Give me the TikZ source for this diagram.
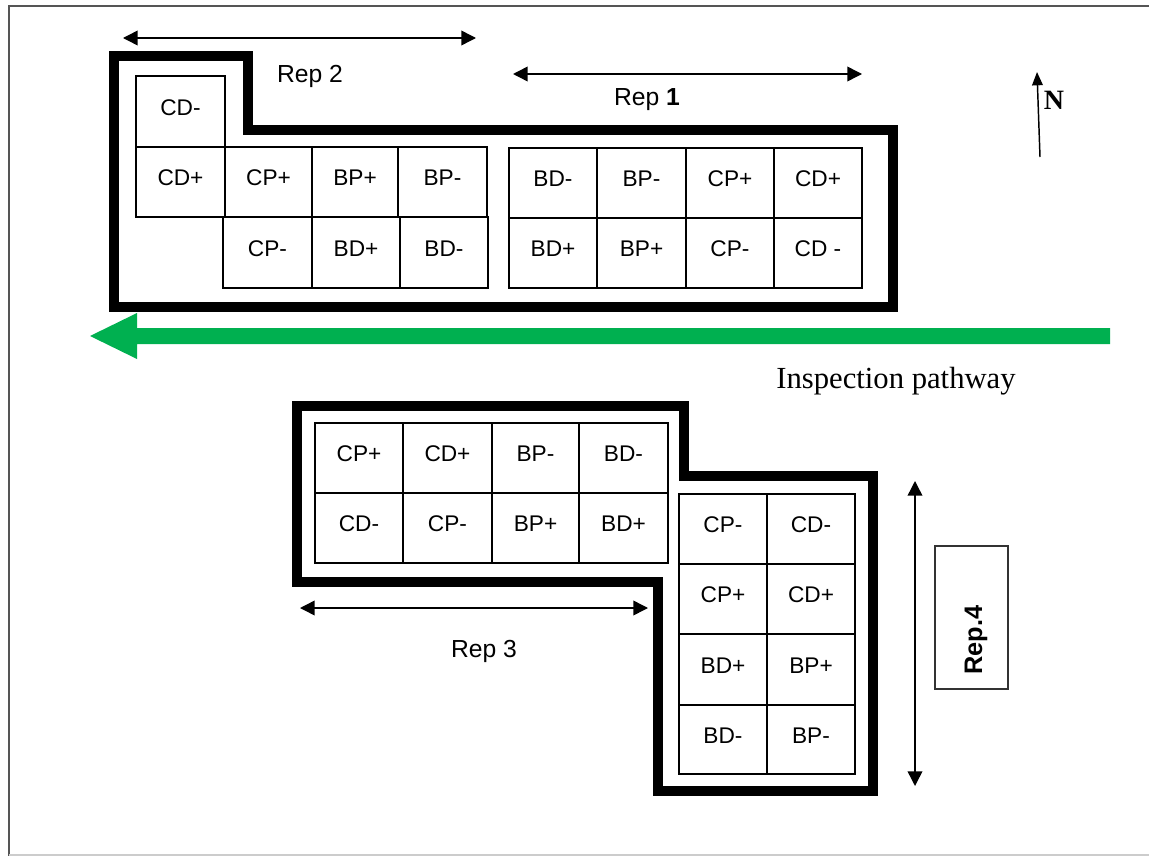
\documentclass[tikz,border=0pt]{standalone}
\usepackage{fontspec}
\setmainfont{Liberation Serif}
\setsansfont{Liberation Sans}
\usetikzlibrary{arrows.meta}
\definecolor{pathgreen}{HTML}{00B050}
\definecolor{framegray}{HTML}{555555}
\tikzset{
  cell/.style={draw=black,line width=1pt,inner sep=0pt,font=\sffamily\fontsize{17}{19}\selectfont},
  wall/.style={line width=6.8pt,line join=miter,draw=black},
  span/.style={line width=1.1pt,{Triangle[length=11pt,width=11pt]}-{Triangle[length=11pt,width=11pt]}},
  replabel/.style={font=\sffamily\fontsize{18.5}{21}\selectfont},
}
\newcommand\plotcell[6]{%
  \pgfmathsetmacro\cw{(#4-#2)*0.75}\pgfmathsetmacro\ch{(#5-#3)*0.75}%
  \node[cell,minimum width=\cw pt,minimum height=\ch pt] (#1) at ({(#2+#4)/2},{(#3+#5)/2}) {\raisebox{6pt}{#6}};}
\begin{document}
\begin{tikzpicture}[x=0.75pt,y=-0.75pt]
\useasboundingbox (0,0) rectangle (1149,856);
% frame
\draw[framegray,line width=1.5pt] (9,856) -- (9,6) -- (1149,6);
\draw[black!20,line width=1pt] (9,855) -- (1149,855);

% ---------- top block (Rep 1 and Rep 2)
\draw[wall] (114,56) -- (248,56) -- (248,130) -- (893,130) -- (893,307) -- (114,307) -- cycle;
\plotcell{a1}{136}{76}{225}{147}{CD-}
\plotcell{a2}{136}{147}{225}{217}{CD+}
\plotcell{a3}{225}{147}{312}{217}{CP+}
\plotcell{a4}{312}{147}{398}{217}{BP+}
\plotcell{a5}{398}{147}{487}{217}{BP-}
\plotcell{a6}{223}{217}{312}{288}{CP-}
\plotcell{a7}{312}{217}{400}{288}{BD+}
\plotcell{a8}{400}{217}{488}{288}{BD-}

\plotcell{b1}{509}{148}{597}{218}{BD-}
\plotcell{b2}{597}{148}{686}{218}{BP-}
\plotcell{b3}{686}{148}{774}{218}{CP+}
\plotcell{b4}{774}{148}{862}{218}{CD+}
\plotcell{b5}{509}{218}{597}{288}{BD+}
\plotcell{b6}{597}{218}{686}{288}{BP+}
\plotcell{b7}{686}{218}{774}{288}{CP-}
\plotcell{b8}{774}{218}{862}{288}{CD -}

\coordinate (r2a) at (123,38); \coordinate (r2b) at (476,38);
\draw[span] (r2a) -- (r2b);
\node[replabel] (rep2) at (310,76) {Rep 2};
\coordinate (r1a) at (513,74); \coordinate (r1b) at (862,74);
\draw[span] (r1a) -- (r1b);
\node[replabel] (rep1) at (647,100) {Rep \textbf{1}};

% north arrow
\coordinate (ns) at (1040,157); \coordinate (nn) at (1037,72);
\draw[line width=1.1pt,-{Triangle[length=10pt,width=8pt]}] (ns) -- (nn);
\node[font=\bfseries\fontsize{21}{24}\selectfont] (north) at (1054,100) {N};

% inspection pathway
\fill[pathgreen] (1110,328) -- (137,328) -- (137,313) -- (90,336) -- (137,359) -- (137,344) -- (1110,344) -- cycle;
\node[font=\fontsize{23}{26}\selectfont] (insp) at (896,381) {Inspection pathway};

% ---------- bottom block (Rep 3 and Rep 4)
\draw[wall] (297,406) -- (684,406) -- (684,476) -- (873,476) -- (873,791) -- (658,791) -- (658,582) -- (297,582) -- cycle;
\plotcell{c1}{315}{423}{403}{493}{CP+}
\plotcell{c2}{403}{423}{492}{493}{CD+}
\plotcell{c3}{492}{423}{579}{493}{BP-}
\plotcell{c4}{579}{423}{668}{493}{BD-}
\plotcell{c5}{315}{493}{403}{563}{CD-}
\plotcell{c6}{403}{493}{492}{563}{CP-}
\plotcell{c7}{492}{493}{579}{563}{BP+}
\plotcell{c8}{579}{493}{668}{563}{BD+}

\plotcell{d1}{679}{494}{767}{564}{CP-}
\plotcell{d2}{767}{494}{855}{564}{CD-}
\plotcell{d3}{679}{564}{767}{634}{CP+}
\plotcell{d4}{767}{564}{855}{634}{CD+}
\plotcell{d5}{679}{634}{767}{705}{BD+}
\plotcell{d6}{767}{634}{855}{705}{BP+}
\plotcell{d7}{679}{705}{767}{774}{BD-}
\plotcell{d8}{767}{705}{855}{774}{BP-}

\coordinate (r3a) at (300,608); \coordinate (r3b) at (648,608);
\draw[span] (r3a) -- (r3b);
\node[replabel] (rep3) at (484,651) {Rep 3};
\coordinate (r4a) at (915,481); \coordinate (r4b) at (915,786);
\draw[span] (r4a) -- (r4b);
\node[draw=black!80,line width=1pt,minimum width=54.75pt,minimum height=107.25pt,inner sep=0pt] (rep4) at (971.5,617.5) {};
\node[font=\sffamily\bfseries\fontsize{19}{22}\selectfont,rotate=90] (rep4t) at (976,640) {Rep.4};
\end{tikzpicture}
\end{document}
